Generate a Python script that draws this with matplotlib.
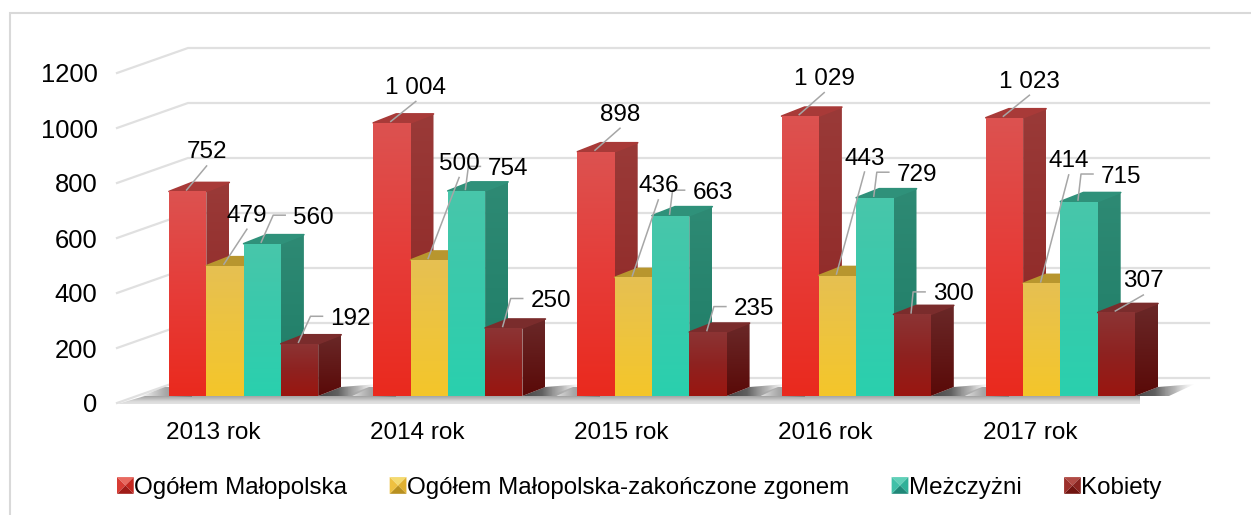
import matplotlib
matplotlib.use('Agg')
import matplotlib.pyplot as plt
import numpy as np
from matplotlib.colors import LinearSegmentedColormap
from matplotlib.legend_handler import HandlerBase
from matplotlib.patches import Patch, Polygon, Rectangle

plt.rcParams['font.family'] = ['Liberation Sans', 'DejaVu Sans']

years = ['2013 rok', '2014 rok', '2015 rok', '2016 rok', '2017 rok']
names = ['Ogółem Małopolska', 'Ogółem Małopolska-zakończone zgonem', 'Meżczyżni', 'Kobiety']
total = [752, 1004, 898, 1029, 1023]
fatal = [479, 500, 436, 443, 414]
men = [560, 754, 663, 729, 715]
women = [192, 250, 235, 300, 307]
y_ticks = [0, 200, 400, 600, 800, 1000, 1200]

# where each value label sits, in pixels from the top of its bar
label_dx = [[8, 13, 13, 13, 14],
            [11, 19, 14, 16, 16],
            [40, 31, 31, 31, 31],
            [40, 36, 35, 30, 16]]
label_dy = [[-37, -33, -35, -35, -34],
            [-48, -94, -89, -115, -120],
            [-24, -20, -21, -21, -23],
            [-23, -25, -21, -18, -29]]

# front, side, top colours per series
front = [['#dc5250', '#e63c38', '#ea2a1e'],
         ['#e6c052', '#eec43e', '#f4c62a'],
         ['#48c6aa', '#38caac', '#2ad0ae'],
         ['#8c3434', '#8e2220', '#9a1610']]
side = [['#9a3a38', '#8c2422'],
        ['#a88a30', '#a08020'],
        ['#2e8a74', '#1e7c66'],
        ['#6a2828', '#5a0a08']]
top = ['#a83a38', '#b8962e', '#2f917a', '#7a2c2c']
pyramid = [['#e86a60', '#c42820', '#a01c18', '#d83c34'],
           ['#f4da70', '#e0b030', '#b89020', '#eec040'],
           ['#60d0b8', '#30b098', '#208878', '#40c0a8'],
           ['#b04a44', '#8a2420', '#701410', '#9c302c']]

CAT_PX = 204.2
UNIT_PX = 0.275
LEFT_PX, ZERO_PX, TOP_PX = 117, 403, 73


def dx(px):
    return px / CAT_PX


def dy(px):
    return px / UNIT_PX


fig = plt.figure(figsize=(12.51, 5.15), dpi=100)
ax = fig.add_axes([LEFT_PX / 1251, (515 - ZERO_PX) / 515,
                   5 * CAT_PX / 1251, (ZERO_PX - TOP_PX) / 515])
ax.patch.set_visible(False)
for spine in ax.spines.values():
    spine.set_visible(False)

fig.add_artist(Rectangle((10 / 1251, -0.1), 1.1, 0.1 + (515 - 13) / 515,
                         transform=fig.transFigure, fill=False,
                         edgecolor='#d9d9d9', linewidth=1.5))


def shaded(verts, colors, zorder, horizontal=False):
    """Polygon filled with a linear gradient, first colour at the top or left."""
    verts = np.array(verts)
    cmap = LinearSegmentedColormap.from_list('face', colors)
    grad = np.linspace(0, 1, 64).reshape(-1, 1)
    if horizontal:
        grad = grad.T
    extent = (verts[:, 0].min(), verts[:, 0].max(), verts[:, 1].min(), verts[:, 1].max())
    im = ax.imshow(grad, cmap=cmap, extent=extent, origin='upper', aspect='auto',
                   interpolation='bilinear', zorder=zorder)
    # the 3d parts stick out of the axes box, so clip to the figure and the polygon only
    im.set_clip_box(fig.bbox)
    im.set_clip_path(Polygon(verts, transform=ax.transData))


wall_x, wall_y = dx(71), dy(25)
for v in y_ticks:
    ax.plot([0, wall_x, 5 + wall_x], [v, v + wall_y, v + wall_y], color='#e0e0e0',
            linewidth=1.6, clip_on=False, zorder=1, solid_joinstyle='miter')

bar_start, bar_w = dx(52), dx(37.3)
depth_x, depth_y = dx(23), dy(9)
base = dy(7)
bar_scale = 0.272 / UNIT_PX
series = [total, fatal, men, women]

# floor front edge
shaded([(0, -dy(1)), (5 + dx(2), -dy(1)), (5 + dx(2), base), (dx(28), base)],
       ['#a4a4a4', '#bcbcbc', '#dadada', '#e2e2e2'], 1.6)

# shadows on the floor, behind each group of bars
for c in range(len(years)):
    x0 = c + bar_start
    x1 = x0 + 4 * bar_w
    shaded([(x0 - dx(30), base - dy(1)), (x0 + depth_x, base - dy(1)), (x0 + depth_x, base + depth_y),
            (x0 - dx(4), base + depth_y)],
           ['#a0a0a000', '#a8a8a8ff', '#808080ff'], 2, horizontal=True)
    shaded([(x1, base), (x1 + depth_x, base + depth_y), (x1 + dx(60), base + depth_y + dy(3)),
            (x1 + dx(34), base)],
           ['#484848ff', '#606060ff', '#a0a0a0c0', '#d0d0d000'], 2, horizontal=True)

z = 3
for s, values in enumerate(series):
    for c, v in enumerate(values):
        x0 = c + bar_start + s * bar_w
        x1 = x0 + bar_w
        h = base + v * bar_scale
        shaded([(x1, base), (x1 + depth_x, base + depth_y), (x1 + depth_x, h + depth_y), (x1, h)],
               side[s], z + s)
        ax.add_patch(Polygon([(x0, h), (x1, h), (x1 + depth_x, h + depth_y), (x0 + depth_x, h + depth_y)],
                             facecolor=top[s], edgecolor=top[s], linewidth=1.2, joinstyle='round',
                             clip_on=False, zorder=z + s + 0.1))
        shaded([(x0, base), (x1, base), (x1, h), (x0, h)], front[s], z + s + 0.2)
ax.set_xlim(0, 5)
ax.set_ylim(0, 1200)

# value labels with leaders
for s, values in enumerate(series):
    for c, v in enumerate(values):
        x0 = c + bar_start + s * bar_w
        h = base + v * bar_scale
        ax_x = x0 + dx(29.6)
        ax_y = h + dy(4.5)
        tx = ax_x + dx(label_dx[s][c])
        ty = ax_y - dy(label_dy[s][c])
        sx, sy = ax_x - dx(12), ax_y - dy(3)
        if label_dx[s][c] >= 28:
            lx = [sx, tx - dx(40), tx - dx(28)]
            ly = [sy, ty, ty]
        else:
            lx = [sx, tx]
            ly = [sy, ty - dy(16)]
        ax.plot(lx, ly, color='#a6a6a6', linewidth=1.1, clip_on=False, zorder=8)
        ax.text(tx, ty, f'{v:,}'.replace(',', ' '), ha='center', va='center_baseline',
                fontsize=17.5, color='black', zorder=9, clip_on=False)

ax.set_yticks(y_ticks)
ax.set_xticks(np.arange(5) + 0.5 - dx(6))
ax.set_xticklabels(years)
ax.tick_params(length=0, labelsize=17.5, labelcolor='black')
ax.tick_params(axis='y', pad=14, labelsize=18.4)
ax.tick_params(axis='x', pad=13.8)


class PyramidHandler(HandlerBase):
    def create_artists(self, legend, orig, xd, yd, width, height, fontsize, trans):
        shades = orig.shades
        size = height * 1.15
        x0, y0 = xd * -1, -yd - (size - height) / 2
        x1, y1 = x0 + size, y0 + size
        mx, my = x0 + size / 2, y0 + size / 2
        corners = [(x0, y1), (x1, y1), (x1, y0), (x0, y0)]
        # top, right, bottom, left triangles
        order = [(0, 1, shades[0]), (1, 2, shades[1]), (2, 3, shades[2]), (3, 0, shades[3])]
        return [Polygon([corners[a], corners[b], (mx, my)], facecolor=col, edgecolor='none',
                        transform=trans) for a, b, col in order]


handles = []
for name, shades in zip(names, pyramid):
    p = Patch(label=name)
    p.shades = shades
    handles.append(p)
ax.legend(handles=handles, handler_map={Patch: PyramidHandler()}, ncol=4, frameon=False,
          fontsize=17.4, handlelength=0.62, handleheight=0.55, handletextpad=0.1,
          columnspacing=1.75, borderpad=0, borderaxespad=0,
          loc='center left', bbox_to_anchor=(0, (ZERO_PX - 488) / (ZERO_PX - TOP_PX)))

fig.savefig('out.png', dpi=100, facecolor='white')
plt.close(fig)
